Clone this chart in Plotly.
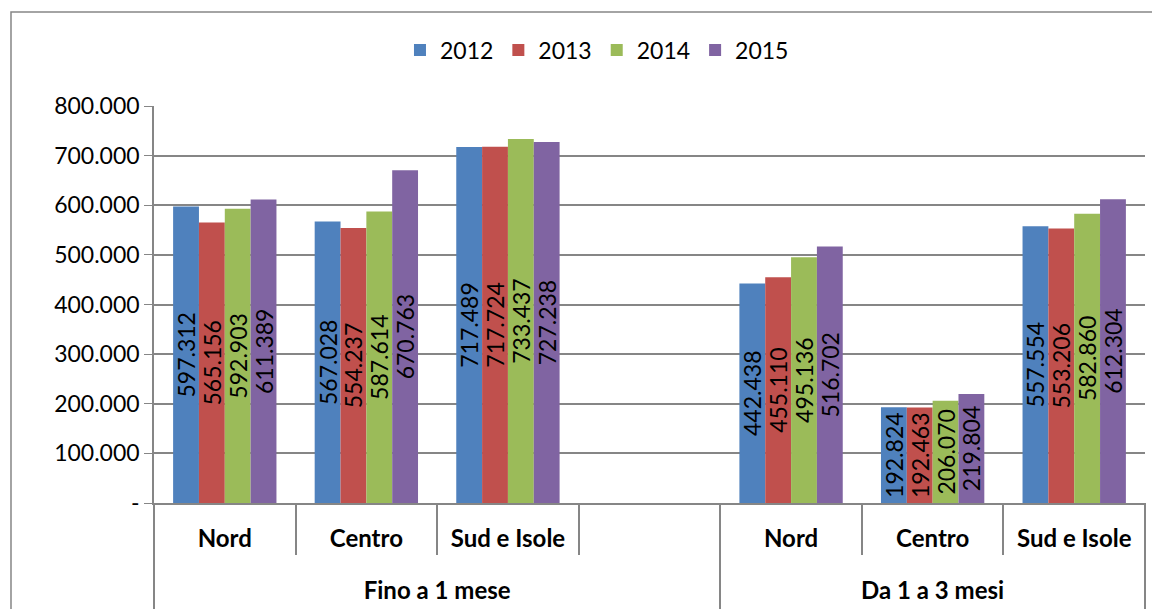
import plotly.graph_objects as go

# Dati: posizione delle categorie, ripartizione territoriale e durata
slot = [0, 1, 2, 3, 4, 5, 6]
aree = ["Nord", "Centro", "Sud e Isole", "", "Nord", "Centro", "Sud e Isole"]
durata = ["Fino a 1 mese", "Da 1 a 3 mesi"]
durata_centro = [1.5, 5]
confini_aree = [-0.5, 0.5, 1.5, 2.5, 3.5, 4.5, 5.5, 6.5]
confini_durata = [-0.5, 3.5, 6.5]

anni = ["2012", "2013", "2014", "2015"]
v2012 = [597312, 567028, 717489, None, 442438, 192824, 557554]
v2013 = [565156, 554237, 717724, None, 455110, 192463, 553206]
v2014 = [592903, 587614, 733437, None, 495136, 206070, 582860]
v2015 = [611389, 670763, 727238, None, 516702, 219804, 612304]
valori = [v2012, v2013, v2014, v2015]

colori = ["#4F81BD", "#C0504D", "#9BBB59", "#8064A2"]

tick_vals = [0, 100000, 200000, 300000, 400000, 500000, 600000, 700000, 800000]
tick_text = ["-", "100.000", "200.000", "300.000", "400.000", "500.000",
             "600.000", "700.000", "800.000"]

FONT = "Lato, Calibri, 'Open Sans', sans-serif"
GRIGIO = "#868686"

fig = go.Figure()
for anno, vals, col in zip(anni, valori, colori):
    fig.add_trace(go.Bar(
        name=anno,
        x=slot,
        y=vals,
        marker=dict(color=col, line=dict(width=0)),
        texttemplate="%{y:,.0f}",
        textposition="inside",
        insidetextanchor="middle",
        textangle=-90,
        constraintext="none",
        textfont=dict(color="black", size=23, family=FONT),
        cliponaxis=False,
    ))

fig.update_layout(
    width=1152,
    height=601,
    barmode="group",
    bargap=0.27,
    bargroupgap=0,
    separators=",.",
    plot_bgcolor="white",
    paper_bgcolor="white",
    font=dict(family=FONT, size=23, color="black"),
    margin=dict(l=146, r=15, t=98, b=0, autoexpand=False),
    legend=dict(
        orientation="h",
        x=0.447, xanchor="center",
        y=1.111, yanchor="middle",
        font=dict(size=23, color="black"),
        traceorder="normal",
        itemwidth=30,
    ),
    shapes=[dict(
        type="rect", xref="paper", yref="paper",
        x0=-0.1443, x1=1.05, y0=-0.1, y1=1.187,
        line=dict(color=GRIGIO, width=1.5), fillcolor="rgba(0,0,0,0)",
        layer="below",
    )],
    yaxis=dict(
        domain=[0.2107, 1],
        range=[0, 800000],
        tickvals=tick_vals,
        ticktext=tick_text,
        showgrid=True,
        gridcolor=GRIGIO,
        gridwidth=1.5,
        showline=True,
        linecolor=GRIGIO,
        linewidth=1.5,
        ticks="outside",
        ticklen=8,
        tickcolor=GRIGIO,
        zeroline=False,
        tickfont=dict(size=23, color="black"),
    ),
    xaxis=dict(
        range=[-0.5, 6.5],
        tickvals=slot,
        ticktext=["<b>%s</b>" % a for a in aree],
        ticks="",
        ticklabelstandoff=13,
        showline=True,
        linecolor=GRIGIO,
        linewidth=1.5,
        showgrid=False,
        zeroline=False,
        tickfont=dict(size=24, color="black"),
        minor=dict(tickmode="array", tickvals=confini_aree, ticks="outside",
                   ticklen=50, tickcolor=GRIGIO, tickwidth=1.5, showgrid=False),
    ),
    xaxis2=dict(
        overlaying="x",
        matches="x",
        anchor="free",
        position=0,
        side="bottom",
        tickvals=durata_centro,
        ticktext=["<b>%s</b>" % d for d in durata],
        ticks="",
        ticklabelposition="inside",
        ticklabelstandoff=2,
        showline=False,
        showgrid=False,
        zeroline=False,
        tickfont=dict(size=24, color="black"),
        minor=dict(tickmode="array", tickvals=confini_durata, ticks="inside",
                   ticklen=106, tickcolor=GRIGIO, tickwidth=1.5, showgrid=False),
    ),
)

# traccia invisibile per attivare il secondo asse x (etichette di durata)
fig.add_trace(go.Bar(x=slot, y=[None] * len(slot), xaxis="x2",
                     showlegend=False, hoverinfo="skip"))

fig.write_html("out.html")
